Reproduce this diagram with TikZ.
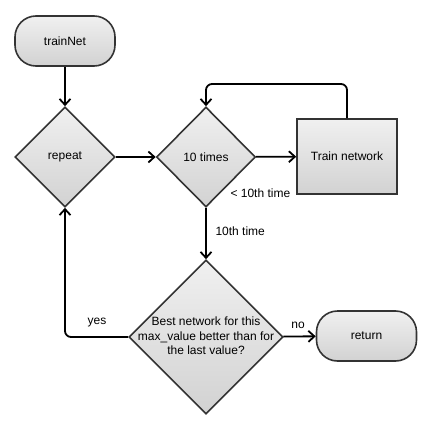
\documentclass[tikz,border=0pt]{standalone}
\usepackage{fontspec}
\setmainfont{Liberation Sans}
\usetikzlibrary{shapes.geometric,arrows.meta}
\definecolor{topgray}{HTML}{F0F0F0}
\definecolor{botgray}{HTML}{D2D2D2}
\definecolor{edgegray}{HTML}{333333}
\tikzset{
  x=1pt,y=-1pt,
  every node/.style={font=\fontsize{12}{14.5}\selectfont},
  boxbase/.style={draw=edgegray,line width=1.6pt,top color=topgray,bottom color=botgray,inner sep=0pt,align=center},
  terminal/.style={boxbase,rounded corners=21pt,minimum width=100pt,minimum height=50pt},
  decision/.style={boxbase,diamond,aspect=1},
  process/.style={boxbase,minimum width=100pt,minimum height=75pt},
  conn/.style={draw=black,line width=1.8pt,-{Straight Barb[length=6pt,width=11pt,line width=1.8pt]}},
  lbl/.style={font=\fontsize{12}{14}\selectfont}
}
\begin{document}
\begin{tikzpicture}
\useasboundingbox (0,0) rectangle (427,428);
\node[terminal] (train) at (65,41) {trainNet};
\node[decision,minimum width=100pt,minimum height=100pt] (rep) at (65,157) {repeat};
\node[decision,minimum width=99pt,minimum height=100pt] (ten) at (206,157) {10 times};
\node[process] (tn) at (347,156.5) {Train network};
\node[decision,minimum width=154pt,minimum height=154pt] (best) at (206,337) {};
\node[align=center,inner sep=0pt] (besttext) at (206,336) {Best network for this\\max\_value better than for\\the last value?};
\node[terminal] (ret) at (366.5,336) {return};
\coordinate (loopR) at (347,84);
\coordinate (loopL) at (206,84);
\coordinate (yesC) at (65,337);
\draw[conn] (train) -- (rep);
\draw[conn] (rep) -- (ten);
\draw[conn] (ten) -- (tn);
\draw[conn,rounded corners=6pt] (tn.north) -- (loopR) -- (loopL) -- (ten.north);
\draw[conn] (ten) -- (best);
\draw[conn] (best) -- (ret);
\draw[conn,rounded corners=6pt] (best.west) -- (yesC) -- (rep.south);
\node[lbl,anchor=west] (lt) at (227,193) {< 10th time};
\node[lbl,anchor=west] (tt) at (212,231) {10th time};
\node[lbl] (no) at (298,325) {no};
\node[lbl] (yes) at (97,323) {yes};
\end{tikzpicture}
\end{document}
